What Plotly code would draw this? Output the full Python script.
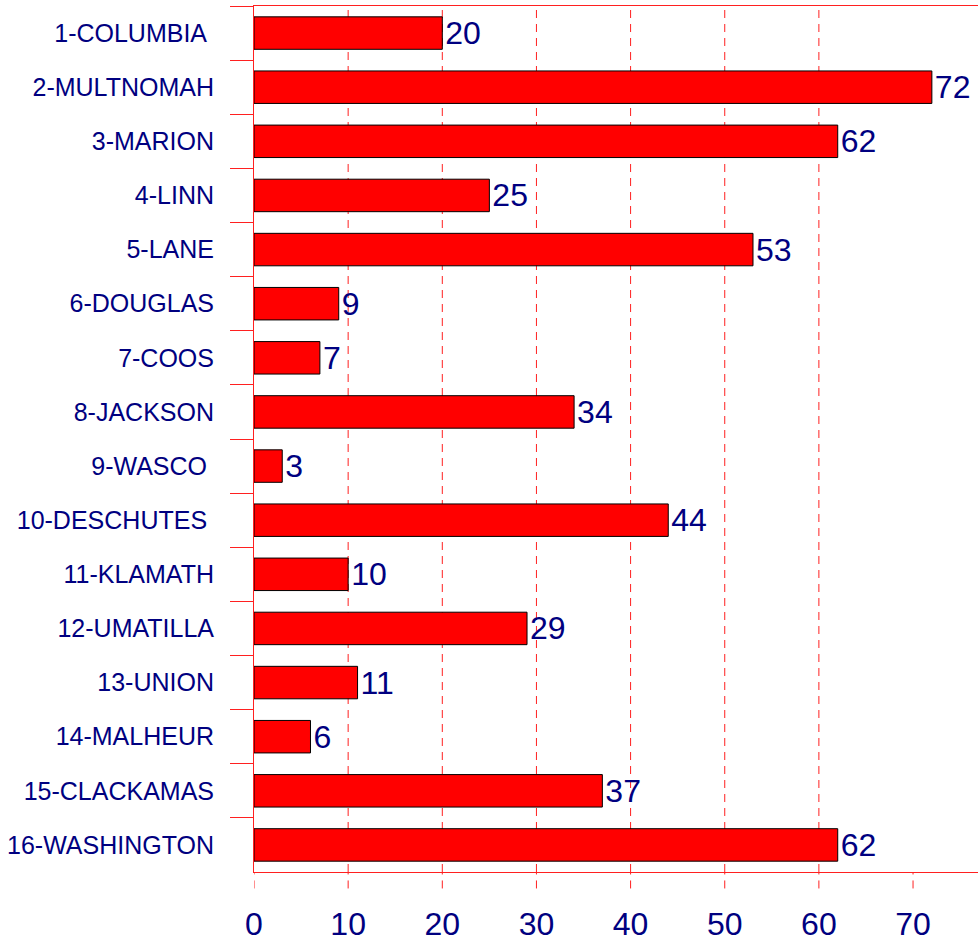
import plotly.graph_objects as go

counties = ["1-COLUMBIA\u00a0", "2-MULTNOMAH", "3-MARION", "4-LINN", "5-LANE", "6-DOUGLAS",
            "7-COOS", "8-JACKSON", "9-WASCO\u00a0", "10-DESCHUTES\u00a0", "11-KLAMATH",
            "12-UMATILLA", "13-UNION", "14-MALHEUR", "15-CLACKAMAS", "16-WASHINGTON"]
values = [20, 72, 62, 25, 53, 9, 7, 34, 3, 44, 10, 29, 11, 6, 37, 62]
x_ticks = [0, 10, 20, 30, 40, 50, 60, 70]
grid_vals = [10, 20, 30, 40, 50, 60]

FONT = "Liberation Sans, Arial, sans-serif"
NAVY = "#000080"

fig = go.Figure()
fig.add_trace(go.Bar(
    y=counties, x=values, orientation="h",
    marker=dict(color="#ff0000", line=dict(color="black", width=1)),
    width=0.6,
    text=[str(v) for v in values], textposition="outside",
    textfont=dict(family=FONT, size=32, color=NAVY),
    constraintext="none",
    cliponaxis=False,
))

shapes = []
for v in grid_vals:
    shapes.append(dict(type="line", xref="x", yref="paper", x0=v, x1=v, y0=0, y1=1,
                       line=dict(color="#ff2020", width=1, dash="8px,6px"), layer="below"))
for v in x_ticks:
    shapes.append(dict(type="line", xref="x", yref="paper", x0=v, x1=v, y0=-0.019, y1=0,
                       line=dict(color="#ff2020", width=1, dash="8px,6px"), layer="below"))

fig.update_layout(
    width=978, height=943,
    margin=dict(l=254, r=0, t=6, b=71),
    plot_bgcolor="white", paper_bgcolor="white",
    showlegend=False,
    shapes=shapes,
    font=dict(family=FONT, color=NAVY),
    xaxis=dict(range=[0, 76.9], tickvals=x_ticks, ticktext=[str(t) for t in x_ticks],
               showgrid=False, zeroline=False,
               showline=True, mirror=True, linecolor="#ff2020", linewidth=1,
               ticks="outside", ticklen=17, tickcolor="rgba(0,0,0,0)",
               ticklabelstandoff=7,
               tickfont=dict(family=FONT, size=32, color=NAVY)),
    yaxis=dict(autorange="reversed", showgrid=False, zeroline=False,
               showline=True, linecolor="#ff2020", linewidth=1,
               ticks="outside", tickson="boundaries", ticklen=23, tickcolor="#ff2020",
               ticklabelstandoff=34,
               tickfont=dict(family=FONT, size=25, color=NAVY)),
    bargap=0.4,
)

fig.write_html("out.html", config={"displayModeBar": False},
               post_script="document.body.style.margin='0';document.body.style.overflow='hidden';")
